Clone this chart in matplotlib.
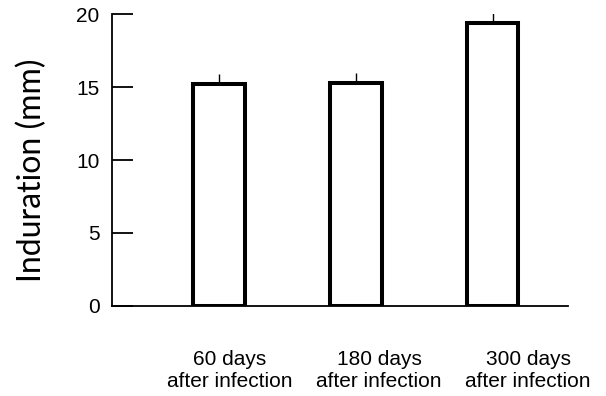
import matplotlib
matplotlib.use("Agg")
import matplotlib.pyplot as plt

plt.rcParams['font.family'] = ['Liberation Sans', 'DejaVu Sans']

categories = ["60 days\nafter infection", "180 days\nafter infection", "300 days\nafter infection"]
values = [15.2, 15.3, 19.4]
errors = [0.7, 0.65, 1.4]
yticks = [0, 5, 10, 15, 20]

figure = plt.figure(figsize=(6.06, 3.96), dpi=100)
axes = figure.add_axes([0.1848, 0.2273, 0.7525, 0.7373])

x = list(range(len(values)))
axes.bar(x, values, width=0.38, color="white", edgecolor="black", linewidth=2.9, zorder=3)
axes.errorbar(x, values, yerr=[[0] * len(errors), errors], fmt="none",
              ecolor="black", elinewidth=1.0, capsize=0, zorder=2)

axes.set_xlim(-0.782, 2.552)
axes.set_ylim(0, 20)
axes.set_yticks(yticks)
axes.set_yticklabels([str(t) for t in yticks], fontsize=15)

# labels sit a bit right of the bars, as in the scan
axes.set_xticks([0.08, 1.17, 2.26])
axes.set_xticklabels(categories, fontsize=15, linespacing=1.2)
axes.tick_params(axis="x", length=0, pad=32)
axes.tick_params(axis="y", direction="in", length=15, width=1.3, pad=9)

for side in ["top", "right"]:
    axes.spines[side].set_visible(False)
for side in ["left", "bottom"]:
    axes.spines[side].set_linewidth(1.3)

axes.set_ylabel("Induration (mm)", fontsize=23, family=["Lato", "DejaVu Sans"])
axes.yaxis.set_label_coords(-0.142, 0.466)

figure.savefig("out.png", dpi=100)
